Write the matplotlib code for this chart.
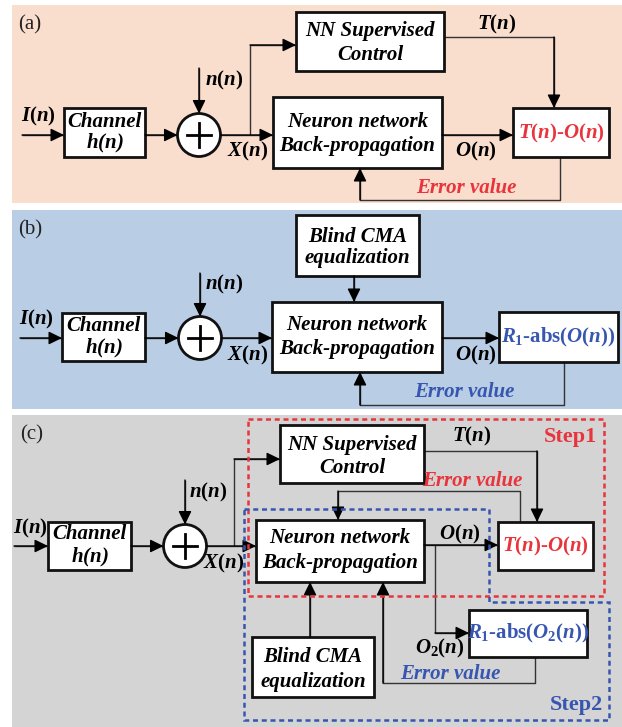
import matplotlib.pyplot as plt
from matplotlib.patches import Rectangle, Circle, Polygon

plt.rcParams['mathtext.fontset'] = 'custom'
plt.rcParams['mathtext.it'] = 'Liberation Serif:italic:bold'
plt.rcParams['mathtext.rm'] = 'Liberation Serif:bold'
plt.rcParams['mathtext.bf'] = 'Liberation Serif:bold'

SERIF = 'Liberation Serif'
RED = '#e8343c'
BLUE = '#3656b0'
LINE = '#333333'

# panel tags and colours
panel_tags = ['(a)', '(b)', '(c)']
panel_colors = ['#f9ddcd', '#b9cde5', '#d4d4d4']
panel_spans = [(5, 203), (210, 409), (415, 727)]

# block texts
channel_txt = ['Channel', '$h$($n$)']
nn_txt = ['NN Supervised', 'Control']
neuron_txt = ['Neuron network', 'Back-propagation']
cma_txt = ['Blind CMA', 'equalization']
diff_txt = '$T$($n$)-$O$($n$)'
cma_err_txt = '$R_1$-abs($O$($n$))'
cma_err2_txt = '$R_1$-abs($O_2$($n$))'
err_txt = 'Error value'
step_txt = ['Step1', 'Step2']

fig = plt.figure(figsize=(6.22, 7.27), dpi=100)
ax = fig.add_axes([0, 0, 1, 1])
ax.set_xlim(0, 622)
ax.set_ylim(727, 0)
ax.axis('off')

for (y0, y1), c in zip(panel_spans, panel_colors):
    ax.add_patch(Rectangle((12, y0), 622 - 12, y1 - y0, fc=c, ec='none', zorder=0))


def box(x0, y0, x1, y1, lines, ys, color='black', size=15, italic=True):
    ax.add_patch(Rectangle((x0, y0), x1 - x0, y1 - y0, fc='white', ec='#111111',
                           lw=2.0, zorder=3))
    for s, y in zip(lines, ys):
        ax.text((x0 + x1) / 2, y, s, ha='center', va='center', fontsize=size,
                family=SERIF, weight='bold', style='italic' if italic else 'normal',
                color=color, zorder=4)


def wire(pts, arrow=True):
    xs, ys = zip(*pts)
    ax.plot(xs, ys, color=LINE, lw=1.0, zorder=2, solid_capstyle='butt')
    if arrow:
        ax.annotate('', xy=pts[-1], xytext=pts[-2],
                    arrowprops=dict(arrowstyle='-|>,head_length=0.45,head_width=0.22',
                                    mutation_scale=18, color='black', lw=1.0,
                                    shrinkA=0, shrinkB=0), zorder=5)


def lab(x, y, s, color='black', size=15, italic=False):
    ax.text(x, y, s, ha='center', va='center', fontsize=size, family=SERIF,
            weight='bold', style='italic' if italic else 'normal', color=color, zorder=4)


def adder(cx, cy, r=21.5):
    ax.add_patch(Circle((cx, cy), r, fc='white', ec='#111111', lw=2.0, zorder=3))
    ax.plot([cx - 12, cx + 12], [cy, cy], color='black', lw=2.0, zorder=4)
    ax.plot([cx, cx], [cy - 12, cy + 12], color='black', lw=2.0, zorder=4)


def tag(x, y, s):
    ax.text(x, y, s, ha='left', va='center', fontsize=15, family=SERIF, color='#222222')


# ---------------- (a) ----------------
tag(18, 25, panel_tags[0])
box(64, 108, 145, 157, channel_txt, [122, 143])
adder(199, 135)
box(296, 12, 444, 71, nn_txt, [31, 55])
box(273, 97, 442, 168, neuron_txt, [122, 146])
box(513, 108, 609, 157, [diff_txt], [133], color=RED, italic=False)
wire([(22, 135), (64, 135)])
wire([(145, 135), (177.5, 135)])
wire([(199, 68), (199, 113.5)])
wire([(220.5, 135), (273, 135)])
wire([(250, 135), (250, 45), (296, 45)])
wire([(444, 37), (554, 37), (554, 108)])
wire([(442, 135), (513, 135)])
wire([(560, 157), (560, 200), (360, 200), (360, 168)])
lab(38, 116, '$I$($n$)')
lab(224, 80, '$n$($n$)')
lab(248, 151, '$X$($n$)')
lab(497, 24, '$T$($n$)')
lab(476, 151, '$O$($n$)')
lab(466, 188, err_txt, color=RED, italic=True)

# ---------------- (b) ----------------
tag(18, 230, panel_tags[1])
box(296, 215, 419, 276, cma_txt, [237, 258])
box(62, 313, 145, 361, channel_txt, [326, 348])
adder(200, 338)
box(272, 302, 442, 372, neuron_txt, [325, 349])
box(499, 312, 618, 362, [cma_err_txt], [337], color=BLUE, italic=False)
wire([(354, 276), (354, 302)])
wire([(20, 338), (62, 338)])
wire([(145, 338), (178.5, 338)])
wire([(200, 273), (200, 316.5)])
wire([(221.5, 338), (272, 338)])
wire([(442, 338), (499, 338)])
wire([(564, 362), (564, 405), (360, 405), (360, 372)])
lab(36, 319, '$I$($n$)')
lab(224, 284, '$n$($n$)')
lab(248, 355, '$X$($n$)')
lab(476, 355, '$O$($n$)')
lab(464, 392, err_txt, color=BLUE, italic=True)

# ---------------- (c) ----------------
tag(20, 435, panel_tags[2])
box(280, 425, 424, 483, nn_txt, [445, 468])
box(256, 520, 424, 582, neuron_txt, [538, 563])
box(48, 522, 131, 570, channel_txt, [534, 557])
adder(185, 546)
box(498, 522, 593, 570, [diff_txt], [546], color=RED, italic=False)
box(469, 610, 587, 657, [cma_err2_txt], [633], color=BLUE, italic=False)
box(252, 637, 374, 697, cma_txt, [657, 682])
wire([(14, 546), (48, 546)])
wire([(131, 546), (163.5, 546)])
wire([(185, 480), (185, 524.5)])
wire([(206.5, 546), (256, 546)])
wire([(234, 546), (234, 459), (280, 459)])
wire([(424, 451), (537, 451), (537, 522)])
wire([(520, 522), (520, 491), (338, 491), (338, 520)])
wire([(424, 545), (498, 545)])
wire([(435, 545), (435, 633), (469, 633)])
wire([(535, 657), (535, 683), (383, 683), (383, 582)])
wire([(310, 637), (310, 582)])
lab(30, 528, '$I$($n$)')
lab(208, 492, '$n$($n$)')
lab(224, 563, '$X$($n$)')
lab(472, 436, '$T$($n$)')
lab(460, 534, '$O$($n$)')
lab(440, 648, '$O_2$($n$)')
lab(472, 481, err_txt, color=RED, italic=True)
lab(450, 674, err_txt, color=BLUE, italic=True)
lab(570, 437, step_txt[0], color=RED, size=16)
lab(576, 705, step_txt[1], color=BLUE, size=16)

ax.add_patch(Rectangle((248, 419), 604 - 248, 596 - 419, fc='none', ec=RED,
                       lw=1.8, ls=(0, (2, 1.5)), zorder=6))
ax.add_patch(Polygon([(244, 509), (489, 509), (489, 602), (609, 602), (609, 720), (244, 720)],
                     closed=True, fc='none', ec=BLUE, lw=1.8, ls=(0, (2, 1.5)), zorder=6))

fig.savefig('out.png', dpi=100)
